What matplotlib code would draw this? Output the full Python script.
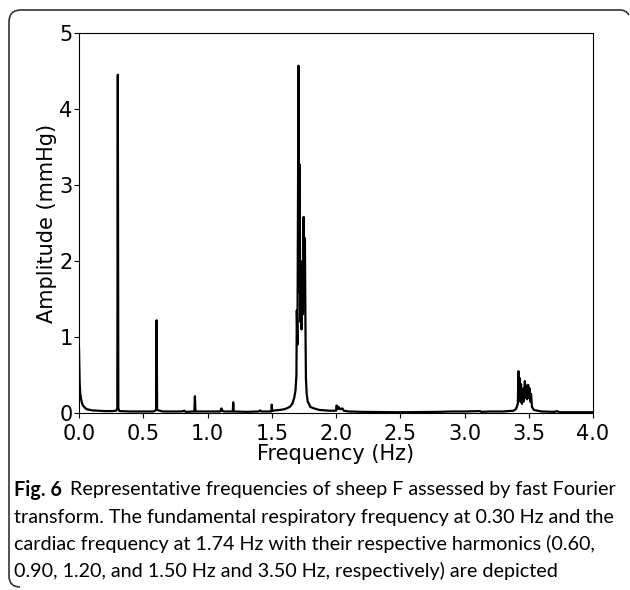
import matplotlib

matplotlib.use("Agg")
import matplotlib.pyplot as plt
from matplotlib.path import Path
from matplotlib.patches import PathPatch

# FFT spectrum (Hz, mmHg)
freq = [
    0.000, 0.005, 0.010, 0.020, 0.030, 0.045, 0.060, 0.100, 0.150, 0.200,
    0.260, 0.290, 0.298, 0.302, 0.306, 0.315, 0.400, 0.500, 0.580, 0.600,
    0.604, 0.608, 0.650, 0.800, 0.820, 0.830, 0.898, 0.902, 0.906, 1.000,
    1.100, 1.108, 1.115, 1.130, 1.197, 1.200, 1.204, 1.300, 1.400, 1.410,
    1.420, 1.497, 1.500, 1.504, 1.560, 1.600, 1.640, 1.660, 1.675, 1.685,
    1.692, 1.695, 1.700, 1.708, 1.712, 1.717, 1.722, 1.727, 1.732, 1.738,
    1.743, 1.748, 1.753, 1.758, 1.762, 1.766, 1.772, 1.780, 1.790, 1.800,
    1.830, 1.870, 1.950, 2.000, 2.005, 2.012, 2.020, 2.030, 2.050, 2.060,
    2.100, 2.200, 2.500, 2.800, 2.900, 3.000, 3.120, 3.130, 3.200, 3.300,
    3.380, 3.400, 3.415, 3.420, 3.425, 3.430, 3.435, 3.440, 3.447, 3.455,
    3.460, 3.470, 3.475, 3.480, 3.487, 3.495, 3.500, 3.505, 3.512, 3.518,
    3.525, 3.540, 3.600, 3.700, 3.720, 3.740, 3.900, 4.000,
]
amp = [
    0.85, 0.40, 0.25, 0.15, 0.10, 0.07, 0.05, 0.035, 0.03, 0.025,
    0.025, 0.03, 0.06, 4.45, 0.06, 0.025, 0.02, 0.02, 0.02, 0.04,
    1.22, 0.04, 0.02, 0.02, 0.03, 0.015, 0.02, 0.22, 0.02, 0.02,
    0.02, 0.06, 0.03, 0.02, 0.02, 0.14, 0.02, 0.015, 0.02, 0.035,
    0.02, 0.02, 0.11, 0.03, 0.04, 0.05, 0.08, 0.12, 0.20, 0.30,
    0.50, 1.35, 0.90, 4.57, 1.60, 3.27, 1.20, 1.95, 1.10, 2.00,
    1.30, 2.58, 1.50, 2.30, 1.20, 0.45, 0.25, 0.15, 0.12, 0.08,
    0.06, 0.04, 0.03, 0.03, 0.10, 0.05, 0.08, 0.05, 0.06, 0.03,
    0.02, 0.015, 0.01, 0.015, 0.02, 0.02, 0.025, 0.015, 0.02, 0.02,
    0.03, 0.05, 0.12, 0.55, 0.20, 0.46, 0.15, 0.38, 0.12, 0.32,
    0.15, 0.42, 0.20, 0.36, 0.18, 0.37, 0.20, 0.33, 0.15, 0.25,
    0.08, 0.04, 0.02, 0.015, 0.025, 0.01, 0.01, 0.01,
]

x_ticks = [0.0, 0.5, 1.0, 1.5, 2.0, 2.5, 3.0, 3.5, 4.0]
y_ticks = [0, 1, 2, 3, 4, 5]

caption_lines = [
    "Representative frequencies of sheep F assessed by fast Fourier",
    "transform. The fundamental respiratory frequency at 0.30 Hz and the",
    "cardiac frequency at 1.74 Hz with their respective harmonics (0.60,",
    "0.90, 1.20, and 1.50 Hz and 3.50 Hz, respectively) are depicted",
]

W, H = 630, 590
fig = plt.figure(figsize=(W / 100, H / 100), dpi=100)
ax = fig.add_axes([79 / W, 1 - 413 / H, (593 - 79) / W, (413 - 33) / H])

ax.plot(freq, amp, color="black", linewidth=1.6)
ax.set_xlim(0, 4)
ax.set_ylim(0, 5)
ax.set_xticks(x_ticks)
ax.set_yticks(y_ticks)
ax.set_xticklabels([f"{t:.1f}" for t in x_ticks])
ax.tick_params(labelsize=15, length=3.5)
ax.tick_params(axis="x", pad=4.5)
ax.tick_params(axis="y", pad=1)
ax.set_xlabel("Frequency (Hz)", fontsize=15, labelpad=0)
ax.set_ylabel("Amplitude (mmHg)", fontsize=15, labelpad=2)

# caption below the plot
cap_font = "Lato"
cap_size = 14.2
fig.text(14 / W, 1 - 490 / H, "Fig. 6", fontsize=cap_size, fontweight="bold",
         family=cap_font, va="center", ha="left")
fig.text(70 / W, 1 - 490 / H, caption_lines[0], fontsize=cap_size,
         family=cap_font, va="center", ha="left")
for i, line in enumerate(caption_lines[1:], start=1):
    fig.text(14 / W, 1 - (490 + 27 * i) / H, line, fontsize=cap_size,
             family=cap_font, va="center", ha="left")

# rounded frame around the figure (left + top edges)
verts = [
    (20, 587), (9, 587), (9, 576),
    (9, 22),
    (9, 10), (21, 10),
    (620, 10),
    (626, 10), (629, 15),
]
codes = [
    Path.MOVETO, Path.CURVE3, Path.CURVE3,
    Path.LINETO,
    Path.CURVE3, Path.CURVE3,
    Path.LINETO,
    Path.CURVE3, Path.CURVE3,
]
verts = [(vx / W, 1 - vy / H) for vx, vy in verts]
frame = PathPatch(Path(verts, codes), transform=fig.transFigure,
                  fill=False, edgecolor="#333333", linewidth=1.2)
fig.patches.append(frame)

fig.savefig("out.png", dpi=100)
